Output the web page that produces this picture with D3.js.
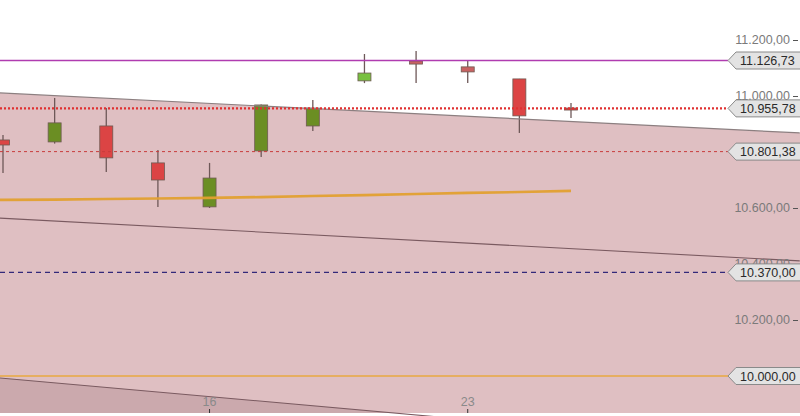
<!DOCTYPE html>
<html><head><meta charset="utf-8">
<script src="https://cdn.jsdelivr.net/npm/d3@7"></script>
<style>html,body{margin:0;padding:0;background:#fff;overflow:hidden}svg{display:block}</style>
</head><body><svg id="c" width="800" height="416"></svg>
<script>
// ---- data ----
const days   = ["10","11","12","13","16","17","18","19","20","23","24","25"];
const open   = [10843,10836,10893,10761,10604,10804,10893,11054,11125,11104,11061,10957];
const high   = [10861,10993,10957,10807,10761,10970,10986,11150,11161,11125,11061,10975];
const low    = [10725,10830,10729,10604,10600,10782,10875,11046,11046,11046,10868,10921];
const close  = [10825,10904,10779,10700,10707,10968,10957,11082,11114,11086,10929,10952];
const maIndex  = [-1,0,1,2,3,4,5,6,7,8,9,10,11];
const maValues = [10627,10629,10630,10632,10634,10636,10639,10643,10646,10650,10654,10657,10661];
const xTickDays = ["16","23"];
const yTicks = [11200,11000,10800,10600,10400,10200,10000];
const levels = [11126.73,10955.78,10801.38,10370.00,10000.00];
const upperTrend  = [[-0.06,11011],[15.43,10868]];
const lowerTrend  = [[-0.06,10564],[15.43,10411]];
const bottomTrend = [[-0.06,9993],[15.43,9739]];

// ---- layout ----
const W=800, H=416, plotBottom=413;
const svg=d3.select("#c");
const x=d3.scaleLinear().domain([0,11]).range([3,571]);
const y=d3.scaleLinear().domain([10000,11200]).range([376,40]);
const vBottom=y.invert(plotBottom);
const loc=d3.formatLocale({decimal:",",thousands:".",grouping:[3],currency:["",""]});
const fmt=loc.format(",.2f");
const font="'Liberation Sans', Arial, sans-serif";

svg.append("rect").attr("width",W).attr("height",H).attr("fill","#fff");

// pink region below upper trend
const iL=x.invert(0), iR=x.invert(W);
function lineVal(t,i){const [a,b]=t;return a[1]+(b[1]-a[1])*(i-a[0])/(b[0]-a[0]);}
const area=d3.area().x(d=>x(d)).y0(y(vBottom)).y1(d=>y(lineVal(upperTrend,d)));
svg.append("path").datum([iL,iR]).attr("d",area).attr("fill","#dfbfc2");
const areaB=d3.area().x(d=>x(d)).y0(y(vBottom)).y1(d=>y(Math.max(vBottom,lineVal(bottomTrend,d))));
svg.append("path").datum(d3.range(iL,iR,0.05)).attr("d",areaB).attr("fill","#cba9ad");

// candles
const idx=d3.range(days.length);
const bw=13;
const g=svg.append("g");
g.selectAll("line.w").data(idx).join("line")
 .attr("x1",i=>x(i)).attr("x2",i=>x(i))
 .attr("y1",i=>y(high[i])).attr("y2",i=>y(low[i]))
 .attr("stroke","#6e5858").attr("stroke-width",1.3);
g.selectAll("rect.b").data(idx).join("rect")
 .attr("x",i=>x(i)-bw/2).attr("width",bw)
 .attr("y",i=>y(Math.max(open[i],close[i])))
 .attr("height",i=>Math.max(2,Math.abs(y(open[i])-y(close[i]))))
 .attr("fill",i=>close[i]>=open[i]?(close[i]>11000?"#78c040":"#6b8e23"):(high[i]>11100?"#c86262":"#dc4444"))
 .attr("stroke","#6e5a52").attr("stroke-width",0.8);

// trend lines
const ln=d3.line().x(d=>x(d[0])).y(d=>y(d[1]));
svg.append("path").attr("d",ln(upperTrend)).attr("stroke","#8c7f80").attr("stroke-width",1.2).attr("fill","none");
svg.append("path").attr("d",ln(lowerTrend)).attr("stroke","#7a5a60").attr("stroke-width",1.1).attr("fill","none");
svg.append("path").attr("d",ln(bottomTrend)).attr("stroke","#7a5a60").attr("stroke-width",1.1).attr("fill","none");

// level lines
const lvStyle=[
 {c:"#b03cb0",w:1.6,d:null},
 {c:"#e03030",w:2.2,d:"2,2"},
 {c:"#c83c3c",w:1,d:"3,3"},
 {c:"#33287a",w:1.1,d:"5,4"},
 {c:"#e8a840",w:1.5,d:null}];
const tipX=728;
levels.forEach((v,k)=>{
  const s=lvStyle[k];
  svg.append("line").attr("x1",0).attr("x2",tipX).attr("y1",y(v)).attr("y2",y(v))
   .attr("stroke",s.c).attr("stroke-width",s.w).attr("stroke-dasharray",s.d);
});

// moving average
svg.append("path").datum(maIndex.map((i,k)=>[i,maValues[k]]))
 .attr("d",ln).attr("stroke","#e2a030").attr("stroke-width",2.6).attr("fill","none").attr("opacity",0.95);

// y axis tick labels (those fully hidden behind a level callout are not drawn)
yTicks.filter(v=>!levels.some(l=>Math.abs(y(l)-y(v))<6)).forEach(v=>{
  svg.append("text").attr("x",790).attr("y",y(v)).attr("dy","0.35em")
   .attr("text-anchor","end").attr("font-family",font).attr("font-size",12.5)
   .attr("fill","#7a7a7a").text(fmt(v));
  svg.append("line").attr("x1",793).attr("x2",798).attr("y1",y(v)+0.5).attr("y2",y(v)+0.5)
   .attr("stroke","#555").attr("stroke-width",1);
});

// x axis labels
xTickDays.forEach(dy=>{
  const i=days.indexOf(dy);
  svg.append("text").attr("x",x(i)).attr("y",406).attr("text-anchor","middle")
   .attr("font-family",font).attr("font-size",12.5).attr("fill","#8a8a8a").text(dy);
  svg.append("line").attr("x1",x(i)).attr("x2",x(i)).attr("y1",409).attr("y2",413)
   .attr("stroke","#333").attr("stroke-width",1);
});

// callouts
levels.forEach(v=>{
  const cy=y(v), h=17;
  const p=`M${tipX},${cy} L${tipX+8},${cy-h/2} L${W+2},${cy-h/2} L${W+2},${cy+h/2} L${tipX+8},${cy+h/2} Z`;
  svg.append("path").attr("d",p).attr("fill","#e3e3e3").attr("stroke","#8a8a8a").attr("stroke-width",1);
  svg.append("text").attr("x",740).attr("y",cy).attr("dy","0.36em")
   .attr("font-family",font).attr("font-size",12.5).attr("fill","#2a2a2a").text(fmt(v));
});
</script></body></html>
